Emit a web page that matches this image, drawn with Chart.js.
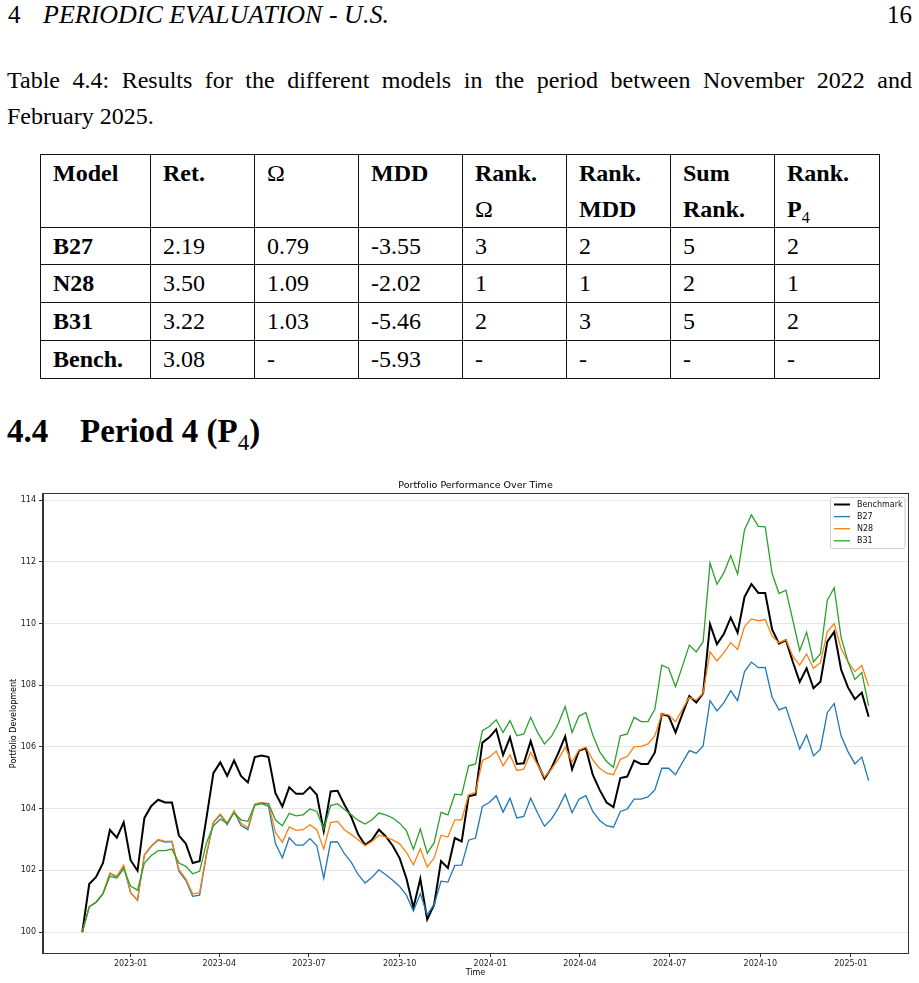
<!DOCTYPE html>
<html><head><meta charset="utf-8">
<script src="https://cdn.jsdelivr.net/npm/chart.js@4.4.0/dist/chart.umd.min.js"></script>
<style>
html,body{margin:0;padding:0;background:#fff;}
body{width:919px;height:983px;position:relative;overflow:hidden;font-family:"Liberation Serif","Times New Roman",serif;color:#000;}
.abs{position:absolute;white-space:nowrap;}
#hdr4{left:8px;top:0px;font-size:25px;line-height:30px;}
#hdr{left:43px;top:0px;font-size:25px;line-height:30px;font-style:italic;transform:scaleX(1.04);transform-origin:0 0;}
#pg{right:7px;top:0px;font-size:25px;line-height:30px;}
#cap{position:absolute;left:7px;top:62px;width:905px;font-size:24px;line-height:36px;text-align:justify;}
table{position:absolute;left:40px;top:154px;border-collapse:collapse;table-layout:fixed;width:839px;font-size:24px;}
td{border:1.3px solid #111;padding:0 0 0 12px;vertical-align:top;line-height:36px;}
td sub{font-size:16px;line-height:0;font-weight:normal;}
#sec{left:7px;top:411px;font-size:33px;line-height:40px;font-weight:bold;}
#sec2{left:80px;top:411px;font-size:33px;line-height:40px;font-weight:bold;}
#sec2 sub{font-size:23px;line-height:0;font-weight:normal;}
#chartbox{position:absolute;left:0;top:478px;width:919px;height:505px;}
</style></head>
<body>
<div class="abs" id="hdr4">4</div>
<div class="abs" id="hdr">PERIODIC EVALUATION - U.S.</div>
<div class="abs" id="pg">16</div>
<div id="cap">Table 4.4: Results for the different models in the period between November 2022 and February 2025.</div>
<table>
<colgroup><col style="width:110px"><col style="width:104px"><col style="width:104px"><col style="width:104px"><col style="width:104px"><col style="width:104px"><col style="width:104px"><col style="width:105px"></colgroup>
<tr style="height:72px"><td><b>Model</b></td><td><b>Ret.</b></td><td>Ω</td><td><b>MDD</b></td><td><b>Rank.</b><br>Ω</td><td><b>Rank.<br>MDD</b></td><td><b>Sum<br>Rank.</b></td><td><b>Rank.<br>P</b><sub>4</sub></td></tr>
<tr style="height:36px"><td><b>B27</b></td><td>2.19</td><td>0.79</td><td>-3.55</td><td>3</td><td>2</td><td>5</td><td>2</td></tr>
<tr style="height:38px"><td><b>N28</b></td><td>3.50</td><td>1.09</td><td>-2.02</td><td>1</td><td>1</td><td>2</td><td>1</td></tr>
<tr style="height:38px"><td><b>B31</b></td><td>3.22</td><td>1.03</td><td>-5.46</td><td>2</td><td>3</td><td>5</td><td>2</td></tr>
<tr style="height:38px"><td><b>Bench.</b></td><td>3.08</td><td>-</td><td>-5.93</td><td>-</td><td>-</td><td>-</td><td>-</td></tr>
</table>
<div class="abs" id="sec">4.4</div>
<div class="abs" id="sec2">Period 4 (P<sub>4</sub>)</div>
<div id="chartbox"><canvas id="c" width="919" height="505"></canvas></div>
<script>
// ---- data (weekly, starting at weekStart) ----
const weekStart = '2022-11-13';
const benchmark = [100.00,101.56,101.79,102.24,103.31,103.06,103.56,102.33,101.99,103.70,
104.09,104.29,104.20,104.20,103.13,102.87,102.24,102.30,103.70,105.15,
105.50,105.06,105.56,105.06,104.85,105.67,105.72,105.67,104.50,104.07,
104.69,104.48,104.48,104.70,104.45,103.27,104.56,104.58,104.13,103.73,
103.16,102.83,102.99,103.32,103.10,102.80,102.40,101.73,100.79,101.73,
100.41,100.89,102.30,102.08,103.05,102.94,104.40,104.45,106.14,106.31,
106.57,105.74,106.31,105.45,105.47,106.19,105.47,104.97,105.31,105.80,
106.34,105.27,105.88,105.96,105.10,104.61,104.20,104.05,104.99,105.04,
105.56,105.45,105.45,105.82,107.07,107.00,106.47,107.07,107.65,107.44,
107.74,109.98,109.33,109.66,110.19,109.70,110.86,111.28,110.99,110.99,
109.81,109.35,109.46,108.76,108.11,108.55,107.90,108.11,109.41,109.73,
108.51,107.93,107.55,107.76,106.98];
const b27 = [100.00,100.82,100.97,101.25,101.90,101.78,102.12,101.28,101.03,102.50,
102.78,102.98,102.92,102.93,101.97,101.68,101.16,101.20,102.50,103.55,
103.80,103.48,103.90,103.45,103.32,104.13,104.17,104.07,102.87,102.41,
103.06,102.82,102.82,103.03,102.80,101.75,102.92,102.92,102.54,102.26,
101.86,101.59,101.78,102.02,101.86,101.68,101.48,101.19,100.68,101.25,
100.57,100.89,101.65,101.62,102.16,102.17,102.98,103.05,104.07,104.20,
104.42,103.89,104.34,103.70,103.75,104.34,103.86,103.43,103.66,104.02,
104.47,103.87,104.31,104.42,103.91,103.62,103.45,103.40,103.91,103.99,
104.31,104.31,104.38,104.61,105.31,105.31,105.10,105.50,105.88,105.80,
106.03,107.50,107.17,107.43,107.82,107.50,108.44,108.75,108.57,108.58,
107.61,107.20,107.29,106.61,105.93,106.39,105.71,105.93,107.11,107.41,
106.36,105.85,105.45,105.67,104.91];
const n28 = [100.00,100.82,100.97,101.25,101.92,101.81,102.17,101.29,101.03,102.51,
102.80,103.00,102.94,102.95,102.03,101.73,101.24,101.27,102.56,103.57,
103.83,103.53,103.93,103.53,103.38,104.15,104.20,104.16,103.23,102.91,
103.41,103.30,103.32,103.48,103.32,102.69,103.55,103.59,103.32,103.16,
102.99,102.80,102.94,103.14,103.08,102.99,102.86,102.58,102.18,102.70,
102.11,102.40,103.14,103.08,103.64,103.64,104.45,104.53,105.56,105.67,
105.87,105.39,105.74,105.24,105.28,105.82,105.42,105.02,105.28,105.60,
105.99,105.51,105.90,105.99,105.58,105.31,105.15,105.10,105.60,105.69,
106.01,106.01,106.10,106.36,107.07,107.04,106.82,107.22,107.61,107.52,
107.74,109.08,108.79,109.05,109.38,109.16,109.90,110.15,110.09,110.13,
109.59,109.38,109.48,108.94,108.65,109.01,108.55,108.73,109.73,110.00,
109.19,108.76,108.44,108.64,107.97];
const b31 = [100.00,100.82,100.97,101.25,101.81,101.75,102.05,101.49,101.36,102.24,
102.48,102.64,102.64,102.69,102.24,102.13,101.89,101.97,102.89,103.45,
103.66,103.53,103.86,103.64,103.59,104.11,104.17,104.16,103.63,103.45,
103.85,103.77,103.80,103.99,103.91,103.34,104.10,104.16,103.97,103.80,
103.62,103.50,103.64,103.86,103.80,103.70,103.53,103.28,102.68,103.34,
102.56,102.89,103.88,103.80,104.47,104.45,105.39,105.45,106.53,106.66,
106.88,106.47,106.85,106.36,106.42,106.96,106.47,106.10,106.34,106.75,
107.31,106.47,107.00,107.11,106.39,105.85,105.53,105.34,106.36,106.42,
106.96,106.82,106.82,107.22,108.65,108.55,107.95,108.62,109.30,109.08,
109.41,111.96,111.27,111.64,112.20,111.60,113.04,113.52,113.15,113.13,
111.62,110.97,111.08,110.11,109.12,109.72,108.76,109.01,110.75,111.16,
109.55,108.76,108.19,108.41,107.33];
const seriesNames = ['Benchmark','B27','N28','B31'];
const xTickLabels = ['2023-01','2023-04','2023-07','2023-10','2024-01','2024-04','2024-07','2024-10','2025-01'];
const yTickValues = [100,102,104,106,108,110,112,114];

// ---- derived ----
const DAY = 86400000;
const t0 = Date.parse(weekStart + 'T00:00:00Z');
const dayOf = s => (Date.parse(s + 'T00:00:00Z') - t0) / DAY;
const dates = benchmark.map((_, i) => new Date(t0 + 7 * i * DAY).toISOString().slice(0, 10));
const xs = dates.map(dayOf);
const xTickDays = xTickLabels.map(l => dayOf(l + '-01'));
const allVals = [benchmark, b27, n28, b31];
const flat = allVals.flat();
const yLo = Math.min(...flat), yHi = Math.max(...flat);
const xLo = xs[0], xHi = xs[xs.length - 1];
const mx = 0.05 * (xHi - xLo), my = 0.05 * (yHi - yLo);

const styles = [
  {color:'#000000', width:2.0},
  {color:'#1f77b4', width:1.3},
  {color:'#ff7f0e', width:1.3},
  {color:'#2ca02c', width:1.3}
];

Chart.defaults.font.family = '"DejaVu Sans", sans-serif';

const framePlugin = {
  id: 'frame',
  afterDraw(chart) {
    const {ctx, chartArea: a} = chart;
    ctx.save();
    ctx.strokeStyle = '#333';
    ctx.lineWidth = 1;
    ctx.strokeRect(Math.round(a.left) - 0.5, Math.round(a.top) - 0.5,
                   Math.round(a.right) - Math.round(a.left) + 1, Math.round(a.bottom) - Math.round(a.top) + 1);
    ctx.restore();
  }
};

const legendPlugin = {
  id: 'innerLegend',
  afterDraw(chart) {
    const {ctx, chartArea: a} = chart;
    const x0 = a.right - 78, y0 = a.top + 3, w = 74.5, h = 51;
    ctx.save();
    ctx.fillStyle = 'rgba(255,255,255,0.85)';
    ctx.strokeStyle = '#cccccc';
    ctx.lineWidth = 1;
    ctx.beginPath();
    if (ctx.roundRect) ctx.roundRect(x0 + 0.5, y0 + 0.5, w, h, 2); else ctx.rect(x0 + 0.5, y0 + 0.5, w, h);
    ctx.fill(); ctx.stroke();
    ctx.font = '8px "DejaVu Sans", sans-serif';
    ctx.textBaseline = 'middle';
    ctx.textAlign = 'left';
    chart.data.datasets.forEach((ds, k) => {
      const y = y0 + 7.5 + k * 12.1;
      ctx.strokeStyle = ds.borderColor;
      ctx.lineWidth = ds.borderWidth;
      ctx.beginPath(); ctx.moveTo(x0 + 4, y); ctx.lineTo(x0 + 20, y); ctx.stroke();
      ctx.fillStyle = '#111';
      ctx.fillText(ds.label, x0 + 27, y + 0.5);
    });
    ctx.restore();
  }
};

new Chart(document.getElementById('c'), {
  type: 'line',
  data: {
    datasets: allVals.map((vals, k) => ({
      label: seriesNames[k],
      data: vals.map((v, i) => ({x: xs[i], y: v})),
      borderColor: styles[k].color,
      backgroundColor: styles[k].color,
      borderWidth: styles[k].width,
      pointRadius: 0,
      tension: 0,
      fill: false,
      order: allVals.length - 1 - k
    }))
  },
  options: {
    responsive: false,
    animation: false,
    devicePixelRatio: 1,
    layout: {padding: {left: 0, right: 11, top: 0, bottom: 0}},
    plugins: {
      legend: {display: false},
      tooltip: {enabled: false},
      title: {
        display: true, fullSize: false,
        text: 'Portfolio Performance Over Time',
        color: '#000',
        font: {size: 9.5, weight: 'normal', lineHeight: 1.2},
        padding: {top: 1.7, bottom: 2.9}
      }
    },
    scales: {
      x: {
        type: 'linear',
        min: xLo - mx, max: xHi + mx,
        afterBuildTicks: s => { s.ticks = xTickDays.map(v => ({value: v})); },
        afterFit: s => { s.height = 30; },
        ticks: {
          autoSkip: false, maxRotation: 0, color: '#222', padding: 2,
          font: {size: 8},
          callback: v => { const k = xTickDays.indexOf(v); return k >= 0 ? xTickLabels[k] : ''; }
        },
        grid: {drawOnChartArea: false, drawTicks: true, tickLength: 4, tickColor: '#333', color: '#333'},
        border: {display: true, color: '#333', width: 1},
        title: {display: true, text: 'Time', color: '#000', font: {size: 8, lineHeight: 1.2}, padding: {top: 0, bottom: 5}}
      },
      y: {
        type: 'linear',
        min: yLo - my, max: yHi + my,
        afterBuildTicks: s => { s.ticks = yTickValues.map(v => ({value: v})); },
        afterFit: s => { s.width = 43; },
        ticks: {color: '#222', padding: 3, font: {size: 8}, callback: v => String(v)},
        grid: {color: '#e6e6e6', lineWidth: 1, drawTicks: true, tickLength: 4, tickColor: '#333'},
        border: {display: true, color: '#333', width: 1},
        title: {display: true, text: 'Portfolio Development', color: '#000', font: {size: 8, lineHeight: 1.2}, padding: {top: 9, bottom: 0}}
      }
    }
  },
  plugins: [framePlugin, legendPlugin]
});
</script>
</body></html>
